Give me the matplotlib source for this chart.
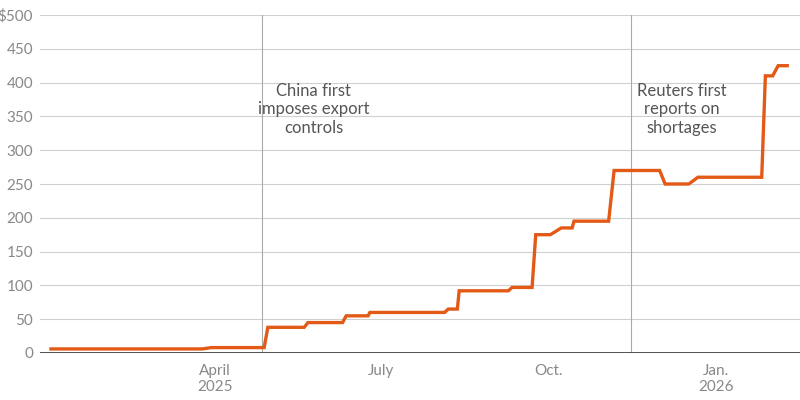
import matplotlib
matplotlib.use("Agg")
import matplotlib.pyplot as plt
import pandas as pd

dates = ["2025-01-01","2025-03-25","2025-03-30","2025-04-28","2025-04-30","2025-05-20","2025-05-22",
         "2025-06-10","2025-06-12","2025-06-24","2025-06-25","2025-08-05","2025-08-07","2025-08-12",
         "2025-08-13","2025-09-09","2025-09-11","2025-09-22","2025-09-24","2025-10-02","2025-10-08",
         "2025-10-14","2025-10-15","2025-11-03","2025-11-06","2025-12-01","2025-12-04","2025-12-17",
         "2025-12-22","2026-01-26","2026-01-28","2026-02-01","2026-02-04","2026-02-09"]
values = [6,6,8,8,38,38,45,45,55,55,60,60,65,65,92,92,97,97,175,175,185,185,195,195,270,270,250,250,
          260,260,410,410,425,425]
event_dates = ["2025-04-27","2025-11-15"]
event_labels = ["China first\nimposes export\ncontrols","Reuters first\nreports on\nshortages"]
yticks = [0,50,100,150,200,250,300,350,400,450,500]
ytick_labels = ["0","50","100","150","200","250","300","350","400","450","$500"]
xtick_dates = ["2025-04-01","2025-07-01","2025-10-01","2026-01-01"]
xtick_labels = ["April\n2025","July","Oct.","Jan.\n2026"]

plt.rcParams['font.family'] = ['Lato', 'DejaVu Sans']
fig = plt.figure(figsize=(8,4), dpi=100)
ax = fig.add_axes([0.05, 0.1175, 0.95, 0.845])
d = pd.to_datetime(dates)
ax.set_xlim(pd.Timestamp("2024-12-26"), pd.Timestamp("2026-02-16"))
ax.set_ylim(0, 500)
for y in yticks[1:]:
    ax.axhline(y, color="#d0d0d0", lw=0.8, zorder=0)
ax.axhline(0, color="#333333", lw=1.2, zorder=3)
for ed, lab in zip(event_dates, event_labels):
    t = pd.Timestamp(ed)
    ax.axvline(t, color="#aaaaaa", lw=0.8, zorder=1)
    ax.text(t + pd.Timedelta(days=28), 400, lab, ha="center", va="top", fontsize=12,
            color="#555555", linespacing=1.2)
ax.plot(d, values, color="#e35a17", lw=2.4, zorder=4, solid_joinstyle="miter")
ax.set_yticks(yticks)
ax.set_yticklabels(ytick_labels)
ax.set_xticks(pd.to_datetime(xtick_dates))
ax.set_xticklabels(xtick_labels)
ax.tick_params(axis="both", length=0, labelsize=11, colors="#888888")
ax.tick_params(axis="y", pad=5)
ax.tick_params(axis="x", pad=8)
for s in ax.spines.values():
    s.set_visible(False)
fig.savefig("out.png", dpi=100)
